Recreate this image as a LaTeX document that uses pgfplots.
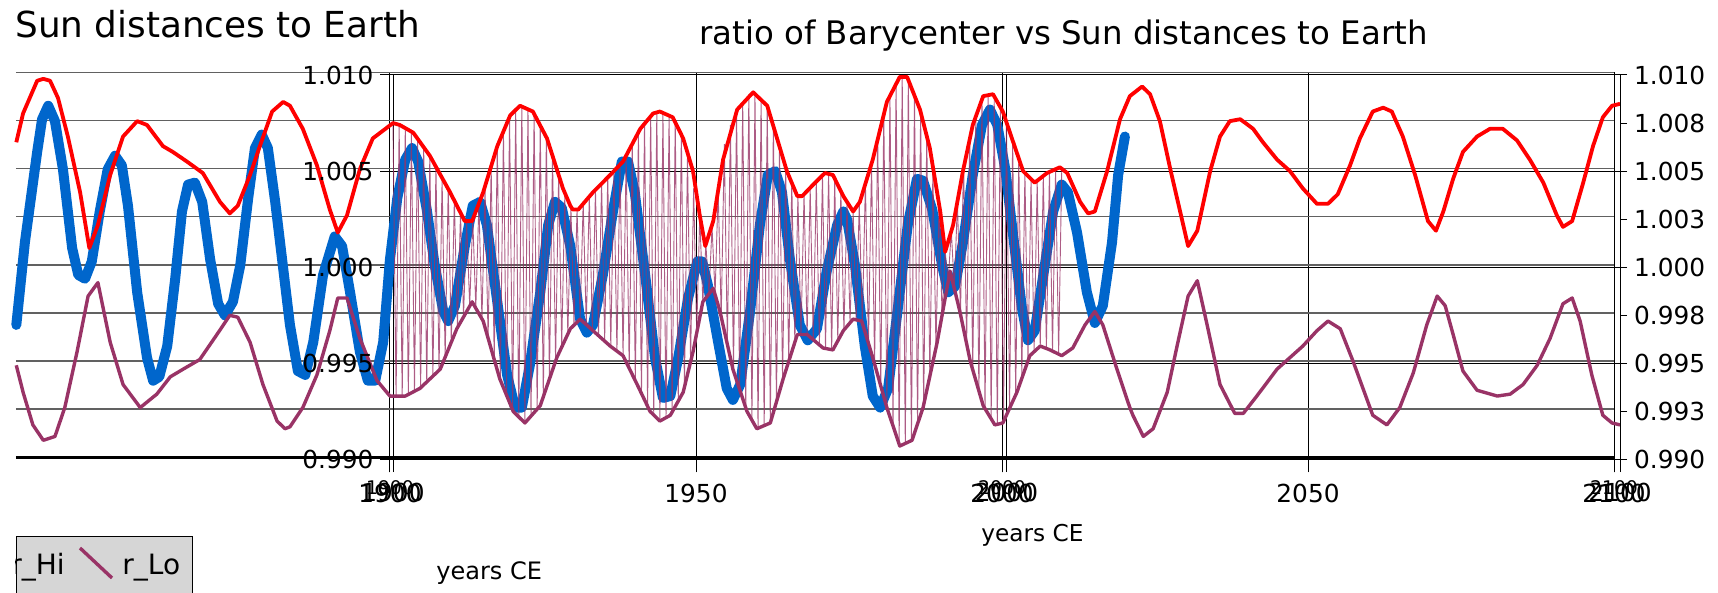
\documentclass[border=0pt]{standalone}
\usepackage{pgfplots}
\pgfplotsset{compat=1.18}
\usepackage{pgfplotstable}
\usepackage{fontspec}
\setmainfont{DejaVu Sans}
\definecolor{rHi}{RGB}{255,0,0}
\definecolor{rLo}{RGB}{153,51,102}
\definecolor{bl}{RGB}{0,102,204}

\pgfplotstableread{
year val
1838.6 1.0065
1839.7 1.0080
1842.0 1.0097
1843.0 1.0098
1844.1 1.0097
1845.4 1.0088
1847.0 1.0068
1849.0 1.0039
1850.5 1.0010
1851.9 1.0022
1853.9 1.0048
1856.0 1.0068
1858.3 1.0076
1859.9 1.0074
1862.5 1.0063
1864.1 1.0060
1866.4 1.0055
1869.0 1.0049
1871.8 1.0034
1873.4 1.0028
1874.7 1.0032
1876.7 1.0048
1878.3 1.0063
1880.3 1.0081
1882.1 1.0086
1883.2 1.0084
1885.3 1.0072
1887.6 1.0053
1889.7 1.0030
1891.0 1.0018
1892.5 1.0027
1894.6 1.0051
1896.7 1.0067
1900.0 1.0075
1901.1 1.0074
1903.3 1.0070
1906.0 1.0058
1909.3 1.0039
1911.7 1.0024
1912.9 1.0024
1914.7 1.0039
1917.0 1.0063
1919.1 1.0079
1920.7 1.0084
1922.8 1.0081
1925.1 1.0067
1927.7 1.0041
1928.9 1.0032
1929.3 1.0030
1930.2 1.0030
1932.6 1.0039
1935.4 1.0048
1937.5 1.0055
1940.3 1.0072
1942.4 1.0080
1943.5 1.0081
1945.6 1.0078
1947.3 1.0067
1948.9 1.0050
1950.0 1.0027
1950.9 1.0011
1952.2 1.0024
1953.8 1.0056
1956.1 1.0082
1958.7 1.0091
1961.0 1.0084
1962.6 1.0067
1964.2 1.0050
1965.9 1.0037
1966.7 1.0037
1968.5 1.0043
1970.4 1.0049
1971.7 1.0048
1973.4 1.0037
1975.0 1.0029
1976.1 1.0034
1978.2 1.0056
1980.5 1.0086
1982.6 1.0099
1983.8 1.0099
1985.9 1.0082
1987.5 1.0062
1989.2 1.0029
1990.0 1.0008
1991.3 1.0022
1992.9 1.0050
1994.5 1.0074
1996.2 1.0089
1997.8 1.0090
1999.4 1.0081
2001.1 1.0065
2002.7 1.0050
2004.6 1.0044
2006.6 1.0049
2008.7 1.0052
2009.9 1.0049
2012.0 1.0034
2013.3 1.0028
2014.4 1.0029
2016.4 1.0050
2018.5 1.0077
2020.1 1.0089
2022.1 1.0094
2023.4 1.0090
2025.0 1.0076
2026.7 1.0051
2028.3 1.0029
2029.6 1.0011
2031.1 1.0019
2033.2 1.0050
2034.8 1.0068
2036.4 1.0076
2038.1 1.0077
2040.2 1.0072
2041.8 1.0065
2044.1 1.0056
2046.2 1.0050
2048.3 1.0041
2050.6 1.0033
2052.4 1.0033
2054.0 1.0038
2056.0 1.0053
2057.6 1.0067
2059.7 1.0081
2061.4 1.0083
2062.8 1.0081
2064.6 1.0068
2065.8 1.0056
2066.6 1.0048
2068.7 1.0024
2070.0 1.0019
2071.2 1.0029
2072.8 1.0046
2074.4 1.0060
2076.7 1.0068
2078.8 1.0072
2080.9 1.0072
2083.2 1.0066
2085.3 1.0056
2087.5 1.0044
2089.7 1.0027
2090.7 1.0021
2092.2 1.0024
2094.0 1.0044
2095.6 1.0063
2097.2 1.0078
2098.7 1.0084
2100.0 1.0085
}\tred

\pgfplotstableread{
year val
1838.6 0.9949
1839.7 0.9935
1841.3 0.9918
1843.0 0.9910
1844.9 0.9912
1846.5 0.9927
1848.5 0.9956
1850.3 0.9985
1851.9 0.9992
1853.9 0.9961
1856.0 0.9939
1858.8 0.9927
1861.5 0.9934
1863.7 0.9943
1865.8 0.9947
1868.5 0.9952
1871.3 0.9965
1873.4 0.9975
1874.7 0.9974
1876.7 0.9961
1878.8 0.9939
1881.1 0.9920
1882.4 0.9916
1883.2 0.9917
1885.3 0.9927
1887.6 0.9944
1889.7 0.9967
1891.0 0.9984
1892.5 0.9984
1894.6 0.9963
1897.4 0.9941
1899.5 0.9933
1902.0 0.9933
1904.4 0.9937
1907.7 0.9947
1910.4 0.9968
1912.9 0.9982
1914.7 0.9972
1917.4 0.9942
1919.6 0.9925
1921.5 0.9919
1924.0 0.9928
1926.7 0.9953
1928.9 0.9968
1930.5 0.9973
1932.6 0.9967
1935.4 0.9959
1937.5 0.9954
1939.8 0.9939
1941.9 0.9925
1943.5 0.9920
1945.2 0.9923
1947.3 0.9935
1948.9 0.9956
1950.5 0.9982
1952.2 0.9989
1953.3 0.9977
1955.4 0.9947
1957.7 0.9925
1959.3 0.9916
1961.5 0.9919
1963.6 0.9942
1965.9 0.9965
1967.5 0.9965
1970.1 0.9958
1971.7 0.9957
1973.4 0.9967
1975.0 0.9973
1976.4 0.9972
1978.2 0.9953
1980.5 0.9927
1982.6 0.9907
1984.6 0.9910
1986.4 0.9927
1988.7 0.9961
1990.8 0.9998
1992.4 0.9977
1994.1 0.9951
1996.2 0.9928
1998.1 0.9918
1999.4 0.9919
2001.7 0.9935
2003.8 0.9954
2005.5 0.9959
2007.1 0.9957
2009.0 0.9954
2010.8 0.9958
2012.8 0.9970
2014.4 0.9977
2015.7 0.9970
2018.0 0.9947
2020.1 0.9927
2020.6 0.9923
2022.3 0.9912
2023.9 0.9916
2026.2 0.9935
2027.8 0.9959
2029.6 0.9985
2031.1 0.9993
2032.7 0.9970
2034.8 0.9939
2037.2 0.9924
2038.6 0.9924
2040.8 0.9933
2044.1 0.9947
2048.3 0.9959
2050.6 0.9967
2052.4 0.9972
2054.4 0.9968
2056.5 0.9951
2059.7 0.9923
2062.0 0.9918
2064.1 0.9927
2066.3 0.9945
2068.5 0.9970
2070.2 0.9985
2071.5 0.9980
2072.8 0.9965
2074.4 0.9946
2076.7 0.9936
2080.0 0.9933
2082.1 0.9934
2084.2 0.9939
2086.5 0.9949
2088.6 0.9963
2090.7 0.9981
2092.2 0.9984
2093.5 0.9972
2095.4 0.9944
2097.2 0.9923
2098.7 0.9919
2100.0 0.9918
}\tlo

\pgfplotstableread{
year val
1838.6 0.9970
1840.0 1.0013
1842.0 1.0060
1842.8 1.0077
1843.8 1.0084
1844.9 1.0076
1846.2 1.0051
1847.7 1.0010
1848.7 0.9996
1849.8 0.9994
1850.9 1.0003
1852.2 1.0029
1853.5 1.0051
1854.7 1.0058
1855.8 1.0053
1856.8 1.0032
1858.3 0.9987
1859.9 0.9953
1860.9 0.9941
1861.9 0.9943
1863.2 0.9959
1864.5 0.9994
1865.6 1.0029
1866.6 1.0043
1867.7 1.0044
1868.9 1.0034
1870.2 1.0004
1871.5 0.9981
1872.6 0.9975
1873.9 0.9982
1875.1 1.0001
1876.4 1.0036
1877.5 1.0062
1878.6 1.0069
1879.6 1.0062
1880.8 1.0034
1881.7 1.0010
1883.2 0.9970
1884.5 0.9946
1885.7 0.9944
1887.0 0.9961
1888.6 0.9996
1890.5 1.0016
1891.7 1.0011
1893.0 0.9987
1894.6 0.9956
1895.9 0.9941
1897.1 0.9941
1898.4 0.9961
1899.5 1.0004
1900.7 1.0036
1902.0 1.0056
1903.1 1.0062
1904.1 1.0055
1905.5 1.0030
1906.8 1.0001
1908.2 0.9977
1909.0 0.9972
1910.1 0.9980
1911.7 1.0011
1913.0 1.0032
1914.2 1.0034
1915.3 1.0022
1917.0 0.9982
1918.6 0.9944
1919.9 0.9927
1921.0 0.9927
1922.3 0.9949
1924.0 0.9987
1925.3 1.0022
1926.4 1.0034
1927.5 1.0031
1928.9 1.0011
1930.5 0.9973
1931.6 0.9966
1932.6 0.9970
1934.2 0.9996
1935.9 1.0030
1937.3 1.0055
1938.3 1.0055
1939.4 1.0039
1941.1 0.9996
1942.7 0.9953
1944.0 0.9932
1945.2 0.9933
1946.5 0.9953
1948.1 0.9984
1949.6 1.0003
1950.4 1.0003
1951.3 0.9991
1953.0 0.9961
1954.4 0.9937
1955.4 0.9931
1956.6 0.9939
1958.2 0.9977
1959.8 1.0022
1961.1 1.0048
1962.3 1.0050
1963.4 1.0039
1964.7 1.0004
1966.3 0.9970
1967.6 0.9962
1969.1 0.9968
1970.7 0.9998
1972.4 1.0022
1973.4 1.0029
1974.0 1.0025
1975.3 1.0001
1976.9 0.9959
1978.2 0.9933
1979.4 0.9927
1980.7 0.9937
1982.3 0.9979
1983.9 1.0022
1985.4 1.0046
1986.4 1.0045
1987.9 1.0030
1989.5 1.0001
1990.5 0.9987
1991.6 0.9990
1992.9 1.0013
1994.5 1.0048
1996.0 1.0074
1997.3 1.0082
1998.5 1.0074
1999.8 1.0051
2001.1 1.0016
2002.5 0.9979
2003.5 0.9962
2004.6 0.9967
2006.0 0.9996
2007.6 1.0029
2009.0 1.0043
2010.0 1.0039
2011.5 1.0018
2013.1 0.9987
2014.4 0.9971
2015.7 0.9980
2017.2 1.0013
2018.2 1.0048
2019.3 1.0068
}\tblue

\pgfplotstableread{
year val
1900 1.0075
1900.5 0.9933
1901 1.0074
1901.5 0.9933
1902 1.0072
1902.5 0.9934
1903 1.0070
1903.5 0.9935
1904 1.0067
1904.5 0.9937
1905 1.0063
1905.5 0.9940
1906 1.0058
1906.5 0.9943
1907 1.0052
1907.5 0.9946
1908 1.0046
1908.5 0.9953
1909 1.0041
1909.5 0.9961
1910 1.0035
1910.5 0.9969
1911 1.0028
1911.5 0.9975
1912 1.0024
1912.5 0.9980
1913 1.0025
1913.5 0.9979
1914 1.0033
1914.5 0.9973
1915 1.0042
1915.5 0.9963
1916 1.0052
1916.5 0.9952
1917 1.0063
1917.5 0.9941
1918 1.0071
1918.5 0.9933
1919 1.0078
1919.5 0.9926
1920 1.0082
1920.5 0.9922
1921 1.0084
1921.5 0.9919
1922 1.0083
1922.5 0.9922
1923 1.0080
1923.5 0.9926
1924 1.0074
1924.5 0.9932
1925 1.0068
1925.5 0.9942
1926 1.0058
1926.5 0.9951
1927 1.0048
1927.5 0.9959
1928 1.0037
1928.5 0.9965
1929 1.0031
1929.5 0.9970
1930 1.0030
1930.5 0.9973
1931 1.0034
1931.5 0.9970
1932 1.0037
1932.5 0.9967
1933 1.0040
1933.5 0.9964
1934 1.0044
1934.5 0.9962
1935 1.0047
1935.5 0.9959
1936 1.0050
1936.5 0.9956
1937 1.0053
1937.5 0.9954
1938 1.0058
1938.5 0.9947
1939 1.0064
1939.5 0.9941
1940 1.0070
1940.5 0.9934
1941 1.0075
1941.5 0.9928
1942 1.0079
1942.5 0.9923
1943 1.0081
1943.5 0.9920
1944 1.0080
1944.5 0.9922
1945 1.0079
1945.5 0.9925
1946 1.0076
1946.5 0.9930
1947 1.0069
1947.5 0.9938
1948 1.0058
1948.5 0.9951
1949 1.0041
1949.5 0.9966
1950 1.0027
1950.5 0.9982
1951 1.0012
1951.5 0.9986
1952 1.0021
1952.5 0.9986
1953 1.0040
1953.5 0.9974
1954 1.0064
1954.5 0.9960
1955 1.0074
1955.5 0.9946
1956 1.0081
1956.5 0.9936
1957 1.0086
1957.5 0.9927
1958 1.0090
1958.5 0.9920
1959 1.0090
1959.5 0.9916
1960 1.0088
1960.5 0.9917
1961 1.0084
1961.5 0.9919
1962 1.0074
1962.5 0.9930
1963 1.0063
1963.5 0.9941
1964 1.0052
1964.5 0.9951
1965 1.0044
1965.5 0.9961
1966 1.0037
1966.5 0.9965
1967 1.0038
1967.5 0.9965
1968 1.0041
1968.5 0.9962
1969 1.0045
1969.5 0.9959
1970 1.0048
1970.5 0.9958
1971 1.0049
1971.5 0.9957
1972 1.0045
1972.5 0.9962
1973 1.0039
1973.5 0.9967
1974 1.0033
1974.5 0.9971
1975 1.0029
1975.5 0.9973
1976 1.0033
1976.5 0.9971
1977 1.0044
1977.5 0.9960
1978 1.0054
1978.5 0.9950
1979 1.0068
1979.5 0.9938
1980 1.0080
1980.5 0.9927
1981 1.0089
1981.5 0.9917
1982 1.0095
1982.5 0.9908
1983 1.0099
1983.5 0.9908
1984 1.0099
1984.5 0.9910
1985 1.0090
1985.5 0.9918
1986 1.0081
1986.5 0.9928
1987 1.0069
1987.5 0.9943
1988 1.0050
1988.5 0.9958
1989 1.0033
1989.5 0.9975
1990 1.0008
1990.5 0.9993
1991 1.0019
1991.5 0.9989
1992 1.0034
1992.5 0.9976
1993 1.0055
1993.5 0.9960
1994 1.0067
1994.5 0.9946
1995 1.0079
1995.5 0.9935
1996 1.0088
1996.5 0.9926
1997 1.0090
1997.5 0.9921
1998 1.0087
1998.5 0.9918
1999 1.0083
1999.5 0.9920
2000 1.0076
2000.5 0.9927
2001 1.0066
2001.5 0.9934
2002 1.0057
2002.5 0.9943
2003 1.0049
2003.5 0.9951
2004 1.0045
2004.5 0.9956
2005 1.0045
2005.5 0.9959
2006 1.0048
2006.5 0.9958
2007 1.0050
2007.5 0.9957
2008 1.0051
2008.5 0.9955
2009 1.0050
}\tspike

\begin{document}
\begin{tikzpicture}
\path[use as bounding box] (0,0) rectangle (859pt,296.5pt);

% Chart A: "Sun distances to Earth" (grid and axis only)
\begin{axis}[
  at={(8pt,67.85pt)}, anchor=south west,
  width=799pt, height=192.5pt, scale only axis,
  xmin=1838.89, xmax=2100, ymin=0.99, ymax=1.01,
  axis x line*=bottom, axis y line*=left,
  x axis line style={black, line width=1.3pt},
  y axis line style={draw=none},
  xtick={1900,1950,2000,2050,2100},
  ytick={0.99,0.9925,0.995,0.9975,1,1.0025,1.005,1.0075,1.01},
  yticklabels={}, y tick style={draw=none},
  ymajorgrids, xmajorgrids,
  y grid style={black!62, line width=0.75pt},
  x grid style={black, line width=0.5pt},
  tick align=outside, major tick length=7.5pt,
  x tick style={black, line width=0.5pt},
  /pgf/number format/assume math mode=true,
  /pgf/number format/1000 sep={},
  xticklabel style={font=\fontsize{12.4}{14}\selectfont, yshift=-2.2pt},
  extra x ticks={1900,2000,2100},
  extra x tick style={grid=none, xticklabel style={font=\fontsize{9.4}{11}\selectfont, yshift=1.4pt}},
]
\end{axis}

% Chart B: "ratio of Barycenter vs Sun distances to Earth" (frame, grid, data)
\begin{axis}[
  at={(196.5pt,66.75pt)}, anchor=south west,
  width=613.5pt, height=192.25pt, scale only axis,
  xmin=1900, xmax=2100, ymin=0.99, ymax=1.01,
  clip=false,
  axis line style={black, line width=0.5pt},
  xtick={1900,2000,2100}, ytick={0.99,0.995,1,1.005,1.01},
  xticklabels={}, yticklabels={},
  xtick pos=bottom, ytick pos=left,
  tick align=outside, major tick length=6.3pt,
  tick style={black, line width=0.5pt},
  ymajorgrids, xmajorgrids,
  grid style={black, line width=0.5pt},
]
\addplot[bl, line width=5pt, line join=round, line cap=round] table[x=year,y=val] {\tblue};
\addplot[rLo, line width=0.45pt, opacity=0.8, line join=miter] table[x=year,y=val] {\tspike};
\addplot[rHi, line width=1.9pt, line join=round] table[x=year,y=val] {\tred};
\addplot[rLo, line width=1.7pt, line join=round] table[x=year,y=val] {\tlo};
\end{axis}

% Chart B tick labels (left and bottom), drawn above the curves
\begin{axis}[
  at={(196.5pt,66.75pt)}, anchor=south west,
  width=613.5pt, height=192.25pt, scale only axis,
  xmin=1900, xmax=2100, ymin=0.99, ymax=1.01,
  axis line style={draw=none},
  xtick={1900,2000,2100}, ytick={0.99,0.995,1,1.005,1.01},
  xtick pos=bottom, ytick pos=left,
  tick align=outside, major tick length=6.3pt,
  tick style={draw=none},
  /pgf/number format/assume math mode=true,
  /pgf/number format/1000 sep={},
  xticklabel style={font=\fontsize{12.4}{14}\selectfont, yshift=-2.2pt},
  yticklabel style={font=\fontsize{12.4}{14}\selectfont,
    /pgf/number format/fixed, /pgf/number format/fixed zerofill,
    /pgf/number format/precision=3},
]
\end{axis}

% Chart B right axis
\begin{axis}[
  at={(196.5pt,66.75pt)}, anchor=south west,
  width=613.5pt, height=192.25pt, scale only axis,
  xmin=1900, xmax=2100, ymin=0.99, ymax=1.01,
  axis x line=none, axis y line*=right,
  y axis line style={black, line width=0.5pt},
  ytick={0.99,0.9925,0.995,0.9975,1,1.0025,1.005,1.0075,1.01},
  yticklabels={0.990,0.993,0.995,0.998,1.000,1.003,1.005,1.008,1.010},
  tick align=outside, major tick length=3.5pt,
  tick style={black, line width=0.5pt},
  yticklabel style={font=\fontsize{12.4}{14}\selectfont},
]
\end{axis}

% titles and axis labels
\node[anchor=base west, inner sep=0, font=\fontsize{17.9}{20}\selectfont] at (7.5pt,277.5pt) {Sun distances to Earth};
\node[anchor=base west, inner sep=0, font=\fontsize{16.2}{19}\selectfont] at (349.5pt,274pt) {ratio of Barycenter vs Sun distances to Earth};
\node[anchor=base west, inner sep=0, font=\fontsize{12}{14}\selectfont] at (218pt,6.5pt) {years CE};
\node[anchor=base west, inner sep=0, font=\fontsize{11.6}{14}\selectfont] at (490.5pt,25.5pt) {years CE};

% legend (cut off at the left, as in the reference)
\begin{scope}
\clip (7.7pt,0pt) rectangle (97pt,29pt);
\draw[fill=black!16, line width=0.5pt] (8pt,-2pt) rectangle (96pt,28pt);
\node[anchor=base east, inner sep=0, font=\fontsize{14}{16}\selectfont] at (32.5pt,9pt) {r\_Hi};
\draw[rLo, line width=1.7pt] (40pt,22.5pt) -- (56pt,7.5pt);
\node[anchor=base west, inner sep=0, font=\fontsize{14}{16}\selectfont] at (61pt,9pt) {r\_Lo};
\end{scope}
\end{tikzpicture}
\end{document}
